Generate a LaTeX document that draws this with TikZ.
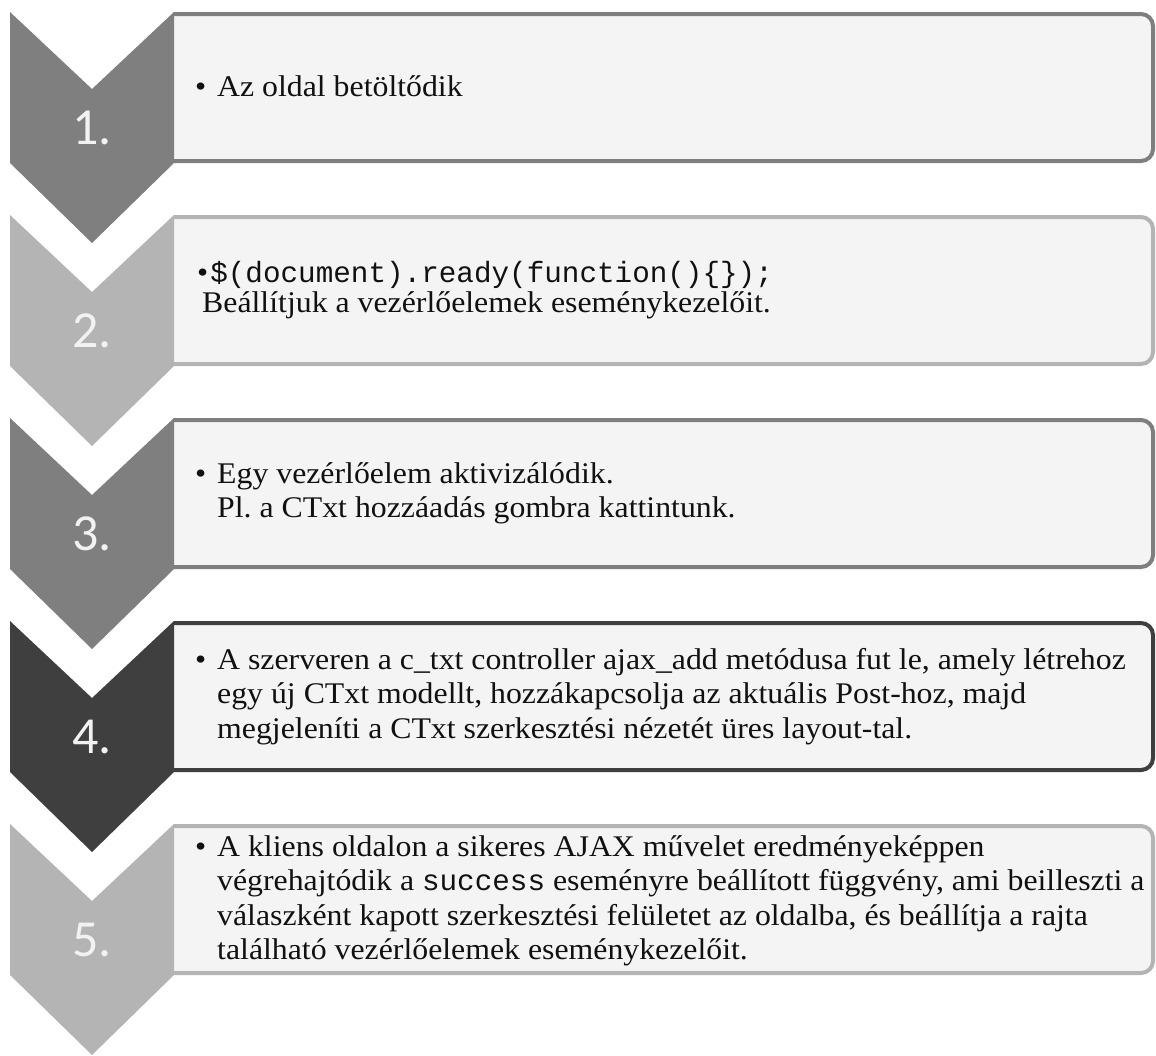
\documentclass[tikz,border=0pt]{standalone}
\usepackage{fontspec}
\setmainfont{Liberation Serif}[FakeStretch=1.06]
\setmonofont{Liberation Mono}
\newfontfamily\numfont{Carlito}
\definecolor{midgray}{HTML}{7F7F7F}
\definecolor{lightgray}{HTML}{B4B4B4}
\definecolor{darkgray}{HTML}{3F3F3F}
\definecolor{boxfill}{HTML}{F4F4F4}
\definecolor{numcol}{HTML}{F2F2F2}
\definecolor{txtcol}{HTML}{111111}
\frenchspacing

\begin{document}
\begin{tikzpicture}[x = 1pt, y = -1pt]
	\tikzstyle{chevronStyle} = [draw = none]
	\tikzstyle{boxStyle} = [fill = boxfill, line width = 4pt, rounded corners = 12pt]
	\tikzstyle{numStyle} = [anchor = base, inner sep = 0pt, text = numcol, font = \numfont\fontsize{52}{52}\selectfont]
	\tikzstyle{textStyle} = [anchor = west, inner sep = 0pt, align = left, text = txtcol, font = \fontsize{30}{34.5}\selectfont]
	\useasboundingbox (0,0) rectangle (1156,1055);
	\filldraw[boxStyle, draw = midgray] (174,14) -- (1153,14) -- (1153,161) -- (174,161);
	\fill[chevronStyle, midgray] (10,12) -- (92,89) -- (174,12) -- (174,163) -- (92,243) -- (10,163) -- cycle;
	\filldraw[boxStyle, draw = lightgray] (174,217) -- (1153,217) -- (1153,364) -- (174,364);
	\fill[chevronStyle, lightgray] (10,215) -- (92,292) -- (174,215) -- (174,366) -- (92,446) -- (10,366) -- cycle;
	\filldraw[boxStyle, draw = midgray] (174,420) -- (1153,420) -- (1153,567) -- (174,567);
	\fill[chevronStyle, midgray] (10,418) -- (92,495) -- (174,418) -- (174,569) -- (92,649) -- (10,569) -- cycle;
	\filldraw[boxStyle, draw = darkgray] (174,623) -- (1153,623) -- (1153,770) -- (174,770);
	\fill[chevronStyle, darkgray] (10,621) -- (92,698) -- (174,621) -- (174,772) -- (92,852) -- (10,772) -- cycle;
	\filldraw[boxStyle, draw = lightgray] (174,826) -- (1153,826) -- (1153,973) -- (174,973);
	\fill[chevronStyle, lightgray] (10,824) -- (92,901) -- (174,824) -- (174,975) -- (92,1055) -- (10,975) -- cycle;
	\node[numStyle] (n1) at (92,144) {1.};
	\node[numStyle] (n2) at (92,347) {2.};
	\node[numStyle] (n3) at (92,550) {3.};
	\node[numStyle] (n4) at (92,753) {4.};
	\node[numStyle] (n5) at (92,956) {5.};
	\node[textStyle] (t1) at (217,86) {\llap{\textbullet\hspace{11pt}}Az oldal betöltődik};
	\node[textStyle, font = \fontsize{30}{30}\selectfont] (t2) at (202,290) {\hspace*{-5pt}\textbullet\hspace{2pt}{\ttfamily\fontsize{29.3}{30}\selectfont\$(document).ready(function()\{\});}\\Beállítjuk a vezérlőelemek eseménykezelőit.};
	\node[textStyle] (t3) at (217,493.5) {\llap{\textbullet\hspace{11pt}}Egy vezérlőelem aktivizálódik.\\Pl. a CTxt hozzáadás gombra kattintunk.};
	\node[textStyle] (t4) at (217,696.5) {\llap{\textbullet\hspace{11pt}}A szerveren a c\_txt controller ajax\_add metódusa fut le, amely létrehoz\\egy új CTxt modellt, hozzákapcsolja az aktuális Post-hoz, majd\\megjeleníti a CTxt szerkesztési nézetét üres layout-tal.};
	\node[textStyle] (t5) at (217,901) {\llap{\textbullet\hspace{11pt}}A kliens oldalon a sikeres AJAX művelet eredményeképpen\\végrehajtódik a {\ttfamily\fontsize{29.3}{34.5}\selectfont success} eseményre beállított függvény, ami beilleszti a\\válaszként kapott szerkesztési felületet az oldalba, és beállítja a rajta\\található vezérlőelemek eseménykezelőit.};
\end{tikzpicture}
\end{document}
